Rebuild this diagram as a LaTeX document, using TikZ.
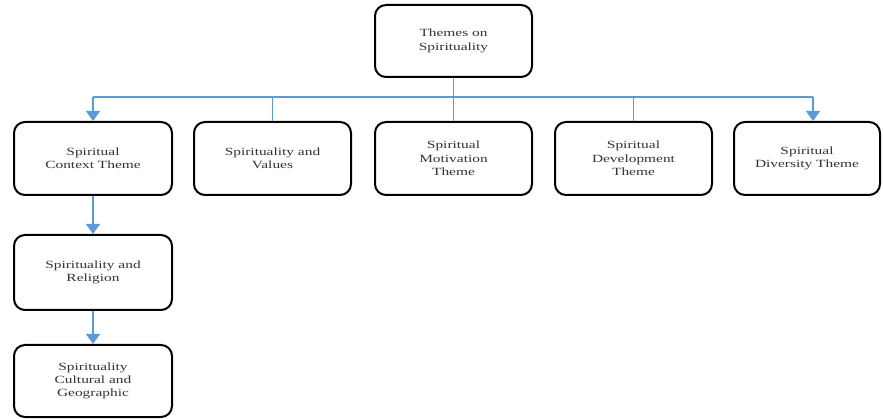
\documentclass[tikz,border=0pt]{standalone}
\usepackage{fontspec}
\setmainfont{Liberation Serif}[FakeStretch=1.4]
\usetikzlibrary{arrows.meta}
\definecolor{conn}{RGB}{91,155,213}
\begin{document}
\begin{tikzpicture}[x=1pt,y=-1pt,
  box/.style={draw=black, line width=2pt, rounded corners=11pt, rectangle,
    align=center, inner sep=0pt, font=\fontsize{11}{13.3}\selectfont, text=black!80},
  link/.style={draw=conn, line width=1.3pt},
  arr/.style={link, -{Triangle[width=14pt,length=10pt]}}]
\useasboundingbox (0,0) rectangle (883,419);
\node[box, minimum width=157pt, minimum height=72pt] (top) at (453.5,41) {Themes on\\Spirituality};
\node[box, minimum width=158pt, minimum height=73pt] (b1) at (93,158.5) {Spiritual\\Context Theme};
\node[box, minimum width=157pt, minimum height=73pt] (b2) at (272.5,158.5) {Spirituality and\\Values};
\node[box, minimum width=157pt, minimum height=73pt] (b3) at (453.5,158.5) {Spiritual\\Motivation\\Theme};
\node[box, minimum width=157pt, minimum height=73pt] (b4) at (633.5,158.5) {Spiritual\\Development\\Theme};
\node[box, minimum width=146pt, minimum height=73pt] (b5) at (807,158.5) {Spiritual\\Diversity Theme};
\node[box, minimum width=158pt, minimum height=75pt] (b6) at (93,272.5) {Spirituality and\\Religion};
\node[box, minimum width=158pt, minimum height=72pt] (b7) at (93,381) {Spirituality\\Cultural and\\Geographic};
\coordinate (barL) at (93,97);
\coordinate (barR) at (813,97);
\draw[link] (barL) -- (barR);
\draw[link] (top.south) -- (b3.north);
\draw[link] (b2.north) -- (b2.north |- barL);
\draw[link] (b4.north) -- (b4.north |- barL);
\draw[arr] (barL) -- (barL |- b1.north);
\draw[arr] (barR) -- (barR |- b5.north);
\draw[arr] (b1.south) -- (b6.north);
\draw[arr] (b6.south) -- (b7.north);
\end{tikzpicture}
\end{document}
